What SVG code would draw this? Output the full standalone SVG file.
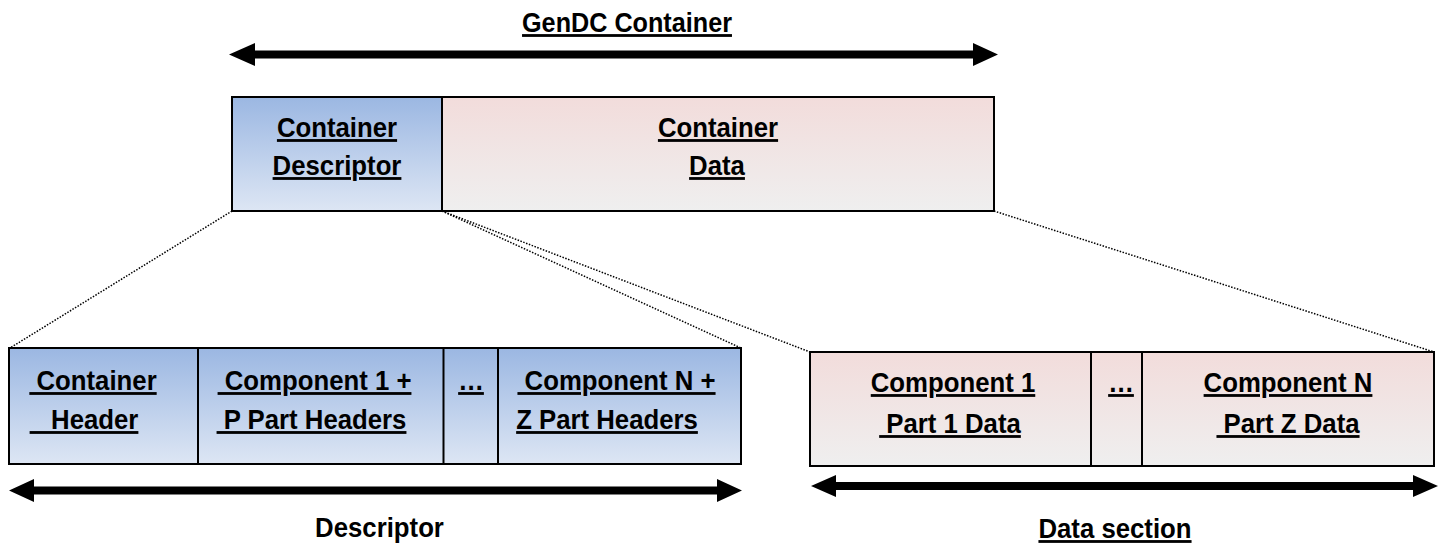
<svg xmlns="http://www.w3.org/2000/svg" width="1441" height="544" viewBox="0 0 1441 544">
  <defs>
    <linearGradient id="gBlue" x1="0" y1="0" x2="0" y2="1">
      <stop offset="0" stop-color="#9bb7e2"/>
      <stop offset="1" stop-color="#dde6f4"/>
    </linearGradient>
    <linearGradient id="gPink" x1="0" y1="0" x2="0" y2="1">
      <stop offset="0" stop-color="#f2dcdb"/>
      <stop offset="1" stop-color="#efefef"/>
    </linearGradient>
  </defs>
  <style>
    .box { stroke: #000; stroke-width: 2; }
    .sep { stroke: #000; stroke-width: 2; }
    .t { font-family: "Liberation Sans", Arial, sans-serif; font-weight: bold; font-size: 28px; fill: #000; text-anchor: middle; white-space: pre; }
    .u { text-decoration: underline; }
    .dot { stroke: #000; stroke-width: 1.5; stroke-dasharray: 1.5 1.5; fill: none; }
    .bar { stroke: #000; stroke-width: 8; fill: none; }
    .tip { fill: #000; }
  </style>

  <rect width="1441" height="544" fill="#fff"/>

  <!-- connectors: dotted zoom lines and double-headed span arrows -->
  <g id="connectors">
    <line class="dot" x1="232" y1="211" x2="10" y2="348"/>
    <line class="dot" x1="442" y1="211" x2="741" y2="348"/>
    <line class="dot" x1="442" y1="211" x2="810" y2="352"/>
    <line class="dot" x1="994" y1="211" x2="1434" y2="352"/>

    <line class="bar" x1="250" y1="54.5" x2="978" y2="54.5"/>
    <path class="tip" d="M229,54.5 L255,43 L255,66 Z M998,54.5 L973,43 L973,66 Z"/>

    <line class="bar" x1="30" y1="490.5" x2="721" y2="490.5"/>
    <path class="tip" d="M9,490.5 L34,479 L34,502 Z M742,490.5 L717,479 L717,502 Z"/>

    <line class="bar" x1="832" y1="486" x2="1418" y2="486"/>
    <path class="tip" d="M811,486 L836,475 L836,497 Z M1438,486 L1413,475 L1413,497 Z"/>
  </g>

  <g id="title">
    <text class="t u" transform="translate(627 32) scale(0.9 1)">GenDC Container</text>
  </g>

  <!-- top row: container overview -->
  <g id="container-descriptor">
    <rect class="box" x="232" y="97" width="210" height="114" fill="url(#gBlue)"/>
    <text class="t u" transform="translate(337 137) scale(0.92 1)">Container</text>
    <text class="t u" transform="translate(337 175) scale(0.92 1)">Descriptor</text>
  </g>
  <g id="container-data">
    <rect class="box" x="442" y="97" width="552" height="114" fill="url(#gPink)"/>
    <text class="t u" transform="translate(718 137) scale(0.92 1)">Container</text>
    <text class="t u" transform="translate(717 175) scale(0.92 1)">Data</text>
  </g>

  <!-- bottom left: descriptor breakdown -->
  <g id="descriptor">
    <rect class="box" x="9" y="348" width="732" height="116" fill="url(#gBlue)"/>
    <line class="sep" x1="198" y1="348" x2="198" y2="464"/>
    <line class="sep" x1="443.5" y1="348" x2="443.5" y2="464"/>
    <line class="sep" x1="498" y1="348" x2="498" y2="464"/>
    <text class="t u" transform="translate(93 390) scale(0.92 1)"> Container</text>
    <text class="t u" transform="translate(84 429) scale(0.92 1)">   Header</text>
    <text class="t u" transform="translate(314.5 390) scale(0.92 1)"> Component 1 +</text>
    <text class="t u" transform="translate(311.5 429) scale(0.92 1)"> P Part Headers</text>
    <text class="t u" transform="translate(471 390) scale(0.92 1)">…</text>
    <text class="t u" transform="translate(616.5 390) scale(0.92 1)"> Component N +</text>
    <text class="t u" transform="translate(607 429) scale(0.92 1)">Z Part Headers</text>
    <text class="t" transform="translate(379.5 537) scale(0.92 1)">Descriptor</text>
  </g>

  <!-- bottom right: data section breakdown -->
  <g id="data-section">
    <rect class="box" x="810" y="352" width="624" height="114" fill="url(#gPink)"/>
    <line class="sep" x1="1091" y1="352" x2="1091" y2="466"/>
    <line class="sep" x1="1142" y1="352" x2="1142" y2="466"/>
    <text class="t u" transform="translate(953 392) scale(0.92 1)">Component 1</text>
    <text class="t u" transform="translate(950 433) scale(0.92 1)"> Part 1 Data</text>
    <text class="t u" transform="translate(1121 392) scale(0.92 1)">…</text>
    <text class="t u" transform="translate(1288 392) scale(0.92 1)">Component N</text>
    <text class="t u" transform="translate(1288 433) scale(0.92 1)"> Part Z Data</text>
    <text class="t u" transform="translate(1115 538) scale(0.92 1)">Data section</text>
  </g>
</svg>
